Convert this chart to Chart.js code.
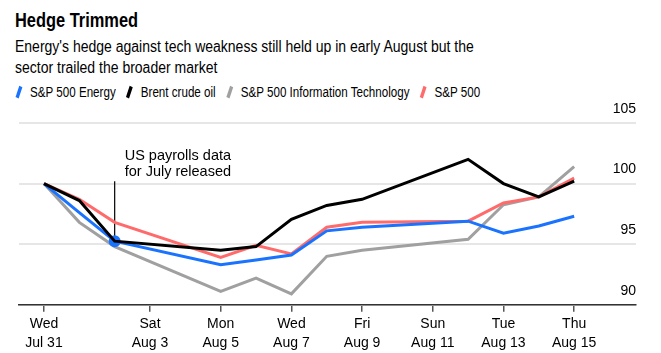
<!DOCTYPE html>
<html lang="en">
<head>
<meta charset="UTF-8">
<title>Hedge Trimmed</title>
<script src="https://cdn.jsdelivr.net/npm/chart.js@4"></script>
<style>
  body { margin: 0; background: #fff; color: #000; font-family: "Liberation Sans", Arial, sans-serif; }
  .wrap { position: relative; width: 661px; height: 353px; overflow: hidden; }
  h1 { position: absolute; left: 15px; top: 8px; margin: 0; font-size: 20px; line-height: 24px; font-weight: bold; transform: scaleX(0.82); transform-origin: left top; white-space: nowrap; }
  .sub { position: absolute; left: 15px; top: 37px; margin: 0; font-size: 16px; line-height: 20.5px; transform: scaleX(0.875); transform-origin: left top; white-space: nowrap; }
  .legend { position: absolute; left: 14px; top: 83px; font-size: 14px; line-height: 18px; display: flex; white-space: nowrap; transform: scaleX(0.83); transform-origin: left top; }
  .legend span.item { display: flex; align-items: center; margin-right: 10.9px; }
  .legend i { display: inline-block; width: 3.6px; height: 12px; margin: 0 11.7px 0 4px; transform: rotate(22deg); }
  canvas { position: absolute; left: 0; top: 0; }
</style>
</head>
<body>
<div class="wrap">
  <h1>Hedge Trimmed</h1>
  <p class="sub">Energy's hedge against tech weakness still held up in early August but the<br>sector trailed the broader market</p>
  <div class="legend" id="legend"></div>
  <canvas id="chart" width="661" height="353"></canvas>
</div>
<script>
// days after Jul 31
const days = [0, 1, 2, 5, 6, 7, 8, 9, 12, 13, 14, 15];
const energy = [100, 97.6, 95.25, 93.3, 93.7, 94.1, 96.1, 96.4, 96.9, 95.9, 96.5, 97.3];
const brent = [100, 98.6, 95.25, 94.5, 94.8, 97.05, 98.2, 98.7, 102.0, 100.0, 98.9, 100.2];
const tech = [100, 96.8, 94.8, 91.1, 92.2, 90.9, 94.0, 94.5, 95.4, 98.25, 98.9, 101.4];
const spx = [100, 98.7, 96.8, 93.9, 94.9, 94.2, 96.4, 96.8, 96.9, 98.4, 98.9, 100.45];

const seriesNames = ['S&P 500 Energy', 'Brent crude oil', 'S&P 500 Information Technology', 'S&P 500'];
const seriesValues = [energy, brent, tech, spx];
const seriesColors = ['#1a73ff', '#000000', '#a0a0a0', '#ff6b6b'];
const drawOrder = [1, 0, 3, 2];

const tickDays = [0, 3, 5, 7, 9, 11, 13, 15];
const tickLabels = [['Wed', 'Jul 31'], ['Sat', 'Aug 3'], ['Mon', 'Aug 5'], ['Wed', 'Aug 7'],
  ['Fri', 'Aug 9'], ['Sun', 'Aug 11'], ['Tue', 'Aug 13'], ['Thu', 'Aug 15']];

const noteDay = 2;
const noteTop = 100.2;
const noteText = ['US payrolls data', 'for July released'];

const FONT = '"Liberation Sans", Arial, sans-serif';

// legend
const legend = document.getElementById('legend');
seriesNames.forEach((name, i) => {
  const item = document.createElement('span');
  item.className = 'item';
  item.innerHTML = '<i style="background:' + seriesColors[i] + '"></i>';
  item.appendChild(document.createTextNode(name));
  legend.appendChild(item);
});

const noteIndex = days.indexOf(noteDay);

const notePlugin = {
  id: 'note',
  beforeDatasetsDraw(chart) {
    const c = chart.ctx;
    const x = chart.scales.x.getPixelForValue(noteDay);
    const yTop = chart.scales.y.getPixelForValue(noteTop);
    const yBot = chart.scales.y.getPixelForValue(energy[noteIndex]);
    c.save();
    c.strokeStyle = '#000';
    c.lineWidth = 1.2;
    c.beginPath();
    c.moveTo(x, yTop);
    c.lineTo(x, yBot);
    c.stroke();
    c.fillStyle = '#000';
    c.font = '14.5px ' + FONT;
    c.textBaseline = 'middle';
    noteText.forEach((t, i) => c.fillText(t, x + 10, yTop - 25 + i * 15.5));
    c.restore();
  }
};

new Chart(document.getElementById('chart'), {
  type: 'line',
  data: {
    datasets: seriesNames.map((name, i) => ({
      label: name,
      data: days.map((d, j) => ({ x: d, y: seriesValues[i][j] })),
      borderColor: seriesColors[i],
      backgroundColor: seriesColors[i],
      borderWidth: 3,
      tension: 0,
      order: drawOrder[i],
      pointRadius: i === 0 ? (ctx => ctx.dataIndex === noteIndex ? 4.5 : 0) : 0,
      pointHoverRadius: 0
    }))
  },
  options: {
    responsive: false,
    animation: false,
    devicePixelRatio: 1,
    layout: { padding: { top: 123, left: 19, right: 25, bottom: -2 } },
    plugins: { legend: { display: false }, tooltip: { enabled: false } },
    scales: {
      x: {
        type: 'linear',
        min: -0.707,
        max: 16.75,
        afterBuildTicks: axis => { axis.ticks = tickDays.map(v => ({ value: v })); },
        ticks: {
          autoSkip: false,
          maxRotation: 0,
          padding: 3,
          color: '#000',
          font: { family: FONT, size: 14, lineHeight: 1.33 },
          callback: v => tickLabels[tickDays.indexOf(v)]
        },
        grid: { drawOnChartArea: false, drawTicks: true, tickLength: 7, color: '#555', lineWidth: 1.5 },
        border: { display: true, color: '#333', width: 1.5 }
      },
      y: {
        type: 'linear',
        position: 'right',
        min: 90,
        max: 105,
        ticks: {
          stepSize: 5,
          mirror: true,
          padding: 0,
          labelOffset: -14,
          color: '#000',
          font: { family: FONT, size: 14 }
        },
        grid: { color: '#e6e6e6', lineWidth: 2, drawTicks: false },
        border: { display: false }
      }
    }
  },
  plugins: [notePlugin]
});
</script>
</body>
</html>
